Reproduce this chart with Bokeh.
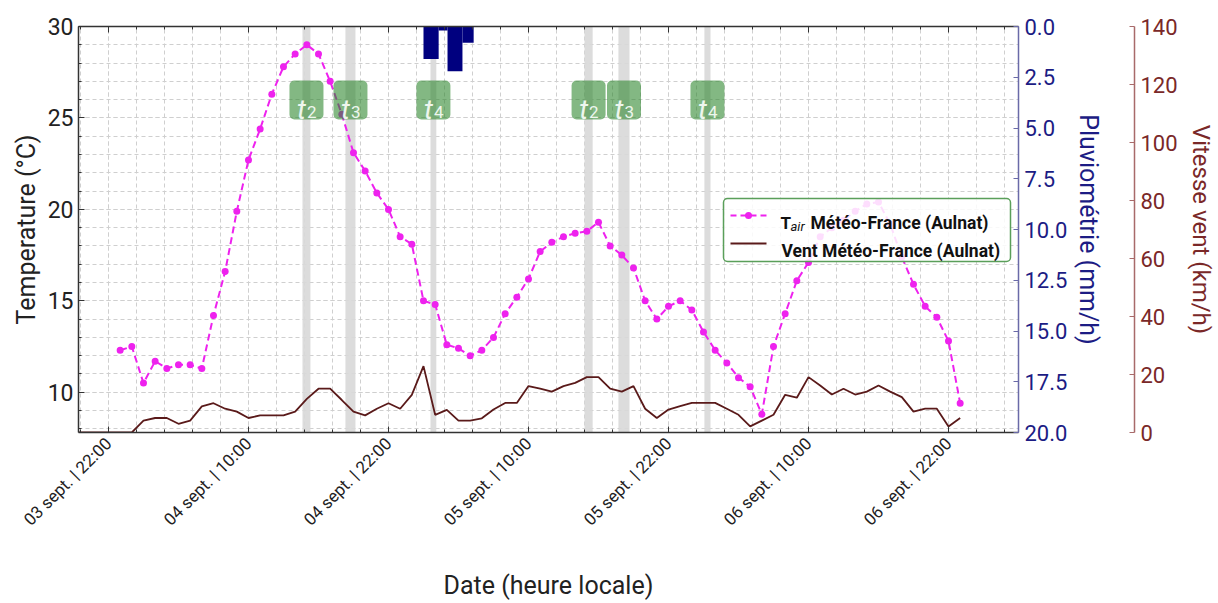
import math

from bokeh.core.properties import value
from bokeh.embed import file_html
from bokeh.models import (FixedTicker, Grid, LinearAxis, NumeralTickFormatter,
                          Range1d, SingleIntervalTicker)
from bokeh.plotting import figure
from bokeh.resources import INLINE

FONT = "Roboto"

# Time axis: hours counted from 03 sept. 22:00 (heure locale)
temp_hours = list(range(1, 74))
temp_c = [12.3, 12.5, 10.5, 11.7, 11.3, 11.5, 11.5, 11.3, 14.2, 16.6,
          19.9, 22.7, 24.4, 26.3, 27.8, 28.5, 29.0, 28.5, 27.0, 25.2,
          23.1, 22.1, 20.9, 20.0, 18.5, 18.1, 15.0, 14.8, 12.6, 12.4,
          12.0, 12.3, 13.0, 14.3, 15.2, 16.2, 17.7, 18.2, 18.5, 18.7,
          18.8, 19.3, 18.0, 17.5, 16.8, 15.0, 14.0, 14.7, 15.0, 14.5,
          13.3, 12.3, 11.6, 10.8, 10.3, 8.8, 12.5, 14.3, 16.1, 17.1,
          18.5, 19.0, 19.4, 19.9, 20.3, 20.4, 19.2, 17.4, 15.9, 14.7,
          14.1, 12.8, 9.4]

wind_hours = list(range(-3, 74))
wind_kmh = [0, 0, 0, 0, 0, 0,
            4.1, 5.0, 5.0, 3.0, 4.1, 9.0, 10.1, 8.2, 7.2, 5.0,
            5.9, 5.9, 5.9, 7.2, 11.6, 15.1, 15.1, 11.2, 7.2, 5.9,
            8.2, 10.1, 8.2, 13.0, 22.9, 6.1, 7.8, 4.1, 4.1, 4.9,
            7.9, 10.2, 10.2, 16.0, 15.1, 14.1, 16.0, 17.1, 19.1, 19.1,
            15.1, 14.1, 16.0, 8.2, 5.0, 7.9, 9.1, 10.2, 10.2, 10.2,
            8.2, 6.1, 2.1, 4.1, 6.1, 13.0, 12.0, 19.1, 16.2, 13.1,
            15.1, 13.1, 14.1, 16.2, 14.1, 12.2, 7.2, 8.2, 8.2, 2.1,
            5.0]

rain_start_h = [27.0, 28.3, 29.06, 30.34]
rain_end_h = [28.3, 29.06, 30.34, 31.3]
rain_mmh = [1.6, 0.2, 2.2, 0.8]

event_index = ["2", "3", "4", "2", "3", "4"]
event_start_h = [16.63, 20.31, 27.6, 40.8, 43.71, 51.08]
event_end_h = [17.31, 21.17, 28.1, 41.5, 44.66, 51.6]

date_tick_h = [0, 12, 24, 36, 48, 60, 72]
date_tick_labels = ["03 sept. | 22:00", "04 sept. | 10:00", "04 sept. | 22:00",
                    "05 sept. | 10:00", "05 sept. | 22:00", "06 sept. | 10:00",
                    "06 sept. | 22:00"]

X_START, X_END = -2.57, 78.0
T_START, T_END = 7.8, 30.0
FRAME_L, FRAME_T, FRAME_W, FRAME_H = 78, 26, 940, 406

MAGENTA = "#ee22ee"
WIND = "#5a1a1a"
NAVY = "#1c1c84"
WINE = "#7a2828"


def hx(px):
    """Canvas x (px) -> hours."""
    return X_START + (px - FRAME_L) * (X_END - X_START) / FRAME_W


def ty(py):
    """Canvas y (px) -> degrees."""
    return T_END - (py - FRAME_T) * (T_END - T_START) / FRAME_H


p = figure(width=1218, height=603, output_backend="svg", toolbar_location=None,
           x_range=Range1d(X_START, X_END), y_range=Range1d(T_START, T_END),
           x_axis_type=None, y_axis_type=None,
           min_border_left=FRAME_L, min_border_right=1218 - FRAME_L - FRAME_W,
           min_border_top=FRAME_T, min_border_bottom=603 - FRAME_T - FRAME_H)
p.outline_line_color = None
p.background_fill_color = "white"
p.border_fill_color = "white"
p.extra_y_ranges = {"rain": Range1d(20, 0), "wind": Range1d(0, 140)}

# --- tickers and grid -------------------------------------------------------
x_minor = [-2.4 + 2.4 * i for i in range(34)]
xticker = FixedTicker(ticks=date_tick_h, minor_ticks=x_minor)
yticker = SingleIntervalTicker(interval=5, num_minor_ticks=5)

grid_style = dict(grid_line_color="#cfcfcf", grid_line_dash="4 3", grid_line_width=1,
                  minor_grid_line_color="#cfcfcf", minor_grid_line_dash="4 3",
                  minor_grid_line_width=1)
p.add_layout(Grid(dimension=0, ticker=xticker, **grid_style))
p.add_layout(Grid(dimension=1, ticker=yticker, **grid_style))

# --- axes -------------------------------------------------------------------
bottom = LinearAxis(ticker=xticker,
                    major_label_overrides=dict(zip(date_tick_h, date_tick_labels)),
                    major_label_orientation=math.pi / 4,
                    axis_label="Date (heure locale)")
top = LinearAxis(ticker=xticker,
                 major_label_overrides={h: "" for h in date_tick_h},
                 major_label_text_font_size="0px", major_label_standoff=0)
for ax in (bottom, top):
    ax.axis_line_color = "#333333"
    ax.axis_line_width = 1.5
    ax.major_tick_in, ax.major_tick_out = 6, 0
    ax.minor_tick_in, ax.minor_tick_out = 3, 0
    ax.major_tick_line_color = "#333333"
    ax.minor_tick_line_color = "#333333"
bottom.major_label_text_font = FONT
bottom.major_label_text_font_size = "17px"
bottom.major_label_text_color = "#222222"
bottom.major_label_standoff = 8
bottom.axis_label_text_font = FONT
bottom.axis_label_text_font_size = "25px"
bottom.axis_label_text_font_style = "normal"
bottom.axis_label_text_color = "#222222"
bottom.axis_label_standoff = 32
p.add_layout(bottom, "below")
p.add_layout(top, "above")

left = LinearAxis(ticker=yticker, axis_label="Temperature (°C)")
left.axis_line_color = "#333333"
left.axis_line_width = 1.5
left.major_tick_in, left.major_tick_out = 6, 0
left.minor_tick_in, left.minor_tick_out = 3, 0
left.major_tick_line_color = "#333333"
left.minor_tick_line_color = "#333333"
left.major_label_text_font = FONT
left.major_label_text_font_size = "23px"
left.major_label_text_color = "#222222"
left.major_label_standoff = 5
left.axis_label_text_font = FONT
left.axis_label_text_font_size = "25px"
left.axis_label_text_font_style = "normal"
left.axis_label_text_color = "#222222"
left.axis_label_standoff = 4
p.add_layout(left, "left")

rain_axis = LinearAxis(y_range_name="rain",
                       ticker=SingleIntervalTicker(interval=2.5, num_minor_ticks=0),
                       formatter=NumeralTickFormatter(format="0.0"),
                       axis_label="Pluviométrie (mm/h)")
wind_axis = LinearAxis(y_range_name="wind",
                       ticker=SingleIntervalTicker(interval=20, num_minor_ticks=0),
                       axis_label="Vitesse vent (km/h)")
for ax, line_c, txt_c in ((rain_axis, "#6a6aa8", NAVY), (wind_axis, "#a86a6a", WINE)):
    ax.axis_line_color = line_c
    ax.axis_line_width = 1.5
    ax.major_tick_in, ax.major_tick_out = 5, 0
    ax.minor_tick_line_color = None
    ax.major_tick_line_color = line_c
    ax.major_label_text_font = FONT
    ax.major_label_text_font_size = "22px"
    ax.major_label_text_color = txt_c
    ax.major_label_standoff = 6
    ax.axis_label_text_font = FONT
    ax.axis_label_text_font_size = "25px"
    ax.axis_label_text_font_style = "normal"
    ax.axis_label_text_color = txt_c
    ax.axis_label_standoff = 4
wind_axis.axis_label_text_font_size = "24px"
wind_axis.axis_label_standoff = 6

# empty axis used as a gap between the two right-hand scales
gap_axis = LinearAxis(y_range_name="wind", ticker=FixedTicker(ticks=[]),
                      axis_line_color=None, major_tick_line_color=None,
                      minor_tick_line_color=None, major_label_standoff=0,
                      axis_label="\u00a0", axis_label_standoff=0,
                      axis_label_text_font_size="22px")
p.add_layout(rain_axis, "right")
p.add_layout(gap_axis, "right")
p.add_layout(wind_axis, "right")

# --- event bands ------------------------------------------------------------
p.quad(left=event_start_h, right=event_end_h, bottom=T_START, top=T_END,
       fill_color="#d8d8d8", fill_alpha=0.9, line_color=None)

# --- series -----------------------------------------------------------------
p.line(wind_hours, wind_kmh, y_range_name="wind", line_color=WIND, line_width=1.8)
p.line(temp_hours, temp_c, line_color=MAGENTA, line_width=2, line_dash="7 4")
p.scatter(temp_hours, temp_c, size=7, fill_color=MAGENTA, line_color=None)

p.quad(left=rain_start_h, right=rain_end_h, bottom=0, top=rain_mmh,
       y_range_name="rain", fill_color="#00007f", line_color=None)

# --- event tags (t2, t3, t4) -------------------------------------------------
event_mid = [(a + b) / 2 for a, b in zip(event_start_h, event_end_h)]
half_w = (hx(FRAME_L + 17) - hx(FRAME_L))
p.quad(left=[m - half_w for m in event_mid], right=[m + half_w for m in event_mid],
       bottom=ty(119), top=ty(80), fill_color="#2a842a", fill_alpha=0.58,
       line_color=None, border_radius=5)
tag_y = [ty(99.5)] * len(event_mid)
p.text(x=event_mid, y=tag_y, text=["t"] * len(event_mid), text_font=value(FONT),
       text_font_size="28px", text_font_style="italic", text_color="#eef6ee",
       text_align="right", text_baseline="alphabetic", x_offset=-0.5, y_offset=9)
p.text(x=event_mid, y=tag_y, text=event_index, text_font=value(FONT),
       text_font_size="17px", text_color="#eef6ee",
       text_align="left", text_baseline="alphabetic", x_offset=0.5, y_offset=12)

# --- legend -----------------------------------------------------------------
p.quad(left=[hx(723)], right=[hx(1010)], top=[ty(198)], bottom=[ty(261)],
       fill_color="white", fill_alpha=0.85, line_color="#5a9f5a", line_width=1.5,
       border_radius=4)
row1, row2 = ty(215), ty(243)
p.segment(x0=[hx(730)], y0=[row1], x1=[hx(766)], y1=[row1],
          line_color=MAGENTA, line_width=2, line_dash="6 4")
p.scatter([hx(748)], [row1], size=7, fill_color=MAGENTA, line_color=None)
p.segment(x0=[hx(730)], y0=[row2], x1=[hx(766)], y1=[row2],
          line_color=WIND, line_width=2)
p.text(x=[hx(780)], y=[ty(222)], text=["T"], text_font=value(FONT),
       text_font_size="17px", text_font_style="bold", text_color="#111111",
       text_baseline="alphabetic")
p.text(x=[hx(790)], y=[ty(226)], text=["air"], text_font=value(FONT),
       text_font_size="13px", text_font_style="italic", text_color="#111111",
       text_baseline="alphabetic")
p.text(x=[hx(810)], y=[ty(222)], text=["Météo-France (Aulnat)"], text_font=value(FONT),
       text_font_size="17.5px", text_font_style="bold", text_color="#111111",
       text_baseline="alphabetic")
p.text(x=[hx(781)], y=[ty(250)], text=["Vent Météo-France (Aulnat)"], text_font=value(FONT),
       text_font_size="17.5px", text_font_style="bold", text_color="#111111",
       text_baseline="alphabetic")

open("out.html", "w").write(file_html(p, INLINE))
